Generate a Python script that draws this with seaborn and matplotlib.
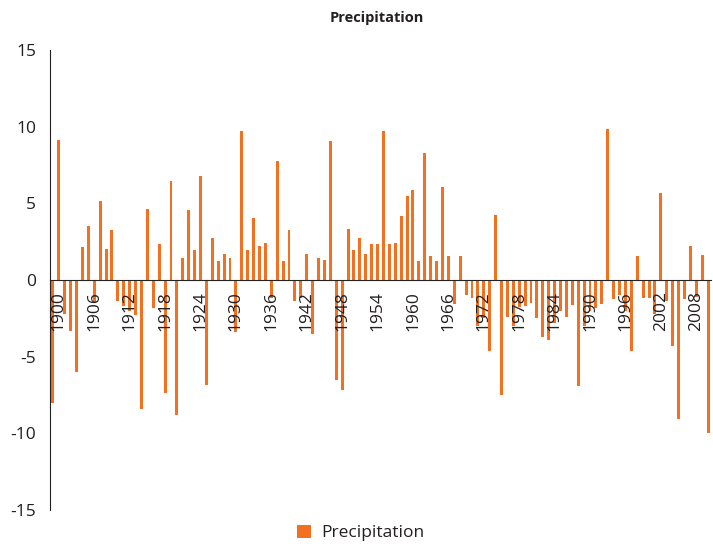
import matplotlib
matplotlib.use('Agg')
import matplotlib.pyplot as plt
import seaborn as sns
import pandas as pd

# ==============================
# data
# ==============================
years = list(range(1899, 2011))
precip = [
    -8.0, 9.1, -2.2, -3.3, -6.0, 2.15, 3.5, -1.5, 5.15, 2.0,
    3.25, -1.4, -1.7, -2.0, -2.25, -8.4, 4.6, -1.8, 2.35, -7.4,
    6.45, -8.8, 1.45, 4.55, 1.95, 6.8, -6.85, 2.75, 1.25, 1.7,
    1.45, -3.4, 9.75, 1.95, 4.05, 2.2, 2.4, -1.2, 7.75, 1.25,
    3.25, -1.4, -1.2, 1.7, -3.55, 1.45, 1.3, 9.05, -6.5, -7.2,
    3.35, 1.95, 2.75, 1.7, 2.35, 2.35, 9.75, 2.35, 2.4, 4.2,
    5.5, 5.85, 1.25, 8.3, 1.55, 1.25, 6.05, 1.55, -1.55, 1.55,
    -0.95, -1.15, -3.0, -2.5, -4.6, 4.25, -7.5, -2.4, -3.0, -1.75,
    -1.7, -1.5, -2.5, -3.7, -3.9, -2.8, -2.0, -2.4, -1.65, -6.9,
    -3.0, -2.0, -1.85, -1.55, 9.85, -1.25, -0.95, -2.0, -4.65, 1.55,
    -1.15, -1.15, -2.2, 5.65, -1.4, -4.3, -9.05, -1.25, 2.2, -1.1,
    1.6, -10.0,
]
label_years = list(range(1900, 2011, 6))
y_ticks = [-15, -10, -5, 0, 5, 10, 15]

bar_color = '#F37021'
text_color = '#231F20'

df = pd.DataFrame({'year': years, 'value': precip})

sns.set_style('white')
plt.rcParams['font.family'] = ['Open Sans', 'DejaVu Sans']
plt.rcParams['axes.unicode_minus'] = False

fig = plt.figure(figsize=(7.13, 5.46), dpi=100)
ax = fig.add_axes([50 / 713, 36 / 546, 661 / 713, 460 / 546])

sns.barplot(data=df, x='year', y='value', color=bar_color, saturation=1,
            width=0.5, linewidth=0, antialiased=False,
            label='Precipitation', ax=ax)

ax.set_xlim(-0.5, len(years) - 0.5)
ax.set_ylim(-15, 15)
ax.set_yticks(y_ticks)
ax.set_yticklabels([str(v) for v in y_ticks])

# a tick for every year, a label every 6th
ax.set_xticks(range(len(years)))
ax.set_xticklabels([str(y) if y in label_years else '' for y in years])
ax.set_xlabel('')
ax.set_ylabel('')

# axis line, ticks and year labels sit on top of the bars
ax.set_axisbelow(False)
ax.spines['bottom'].set_position(('data', 0))
ax.spines['top'].set_visible(False)
ax.spines['right'].set_visible(False)
ax.spines['left'].set_color('#222222')
ax.spines['bottom'].set_color('#222222')
ax.tick_params(axis='x', direction='out', length=5, width=0.8, pad=3, colors='#444444',
               labelcolor=text_color, labelsize=12.5, labelrotation=90)
ax.tick_params(axis='y', direction='out', length=6, width=0.8, pad=4, colors='#222222',
               labelcolor=text_color, labelsize=12.5)
ax.grid(False)

fig.text(377 / 713, 1 - 18 / 546, 'Precipitation', ha='center', va='center',
         fontsize=10.5, fontweight='bold', color=text_color)

ax.legend(loc='center', bbox_to_anchor=(361 / 713, 1 - 533 / 546),
          bbox_transform=fig.transFigure, frameon=False, fontsize=12.5,
          handlelength=0.8, handleheight=0.8, handletextpad=0.6,
          labelcolor=text_color)

fig.savefig('out.png', dpi=100)
plt.close()
